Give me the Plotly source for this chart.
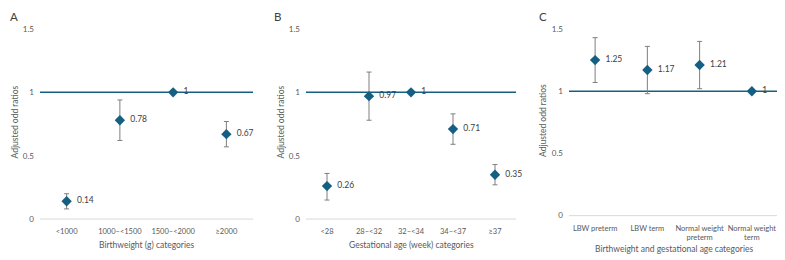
import plotly.graph_objects as go

# ---- data ----
cat_a = ["<1000", "1000–<1500", "1500–<2000", "≥2000"]
or_a = [0.14, 0.78, 1.00, 0.67]
lo_a = [0.08, 0.62, None, 0.57]
hi_a = [0.20, 0.94, None, 0.77]
lab_a = ["0.14", "0.78", "1", "0.67"]

cat_b = ["<28", "28–<32", "32–<34", "34–<37", "≥37"]
or_b = [0.26, 0.97, 1.00, 0.71, 0.35]
lo_b = [0.15, 0.78, None, 0.59, 0.27]
hi_b = [0.36, 1.16, None, 0.83, 0.43]
lab_b = ["0.26", "0.97", "1", "0.71", "0.35"]

cat_c = ["LBW preterm", "LBW term", "Normal weight<br>preterm", "Normal weight<br>term"]
or_c = [1.25, 1.17, 1.21, 1.00]
lo_c = [1.07, 0.98, 1.02, None]
hi_c = [1.43, 1.36, 1.40, None]
lab_c = ["1.25", "1.17", "1.21", "1"]

y_ticks = [0, 0.5, 1, 1.5]
y_ticktext = ["0", "0.5", "1", "1.5"]

OFF = 8  # page body margin
W, H = 785 - OFF, 260 - OFF
FONT = "Lato, Open Sans, sans-serif"
MARK = "#156082"
GRAY = "#595959"

panels = [
    dict(cats=cat_a, vals=or_a, lo=lo_a, hi=hi_a, labs=lab_a, letter="A",
         xtitle="Birthweight (g) categories", xd=(40, 253), yd=(225, 20), yr=(-0.047, 1.571),
         ytitle_x=14, letter_x=8, xtitle_y=245),
    dict(cats=cat_b, vals=or_b, lo=lo_b, hi=hi_b, labs=lab_b, letter="B",
         xtitle="Gestational age (week) categories", xd=(306, 516), yd=(225, 20), yr=(-0.047, 1.571),
         ytitle_x=280, letter_x=272, xtitle_y=245),
    dict(cats=cat_c, vals=or_c, lo=lo_c, hi=hi_c, labs=lab_c, letter="C",
         xtitle="Birthweight and gestational age categories", xd=(569, 778), yd=(222, 20), yr=(-0.051, 1.572),
         ytitle_x=543, letter_x=537, xtitle_y=249),
]

def px(x):
    return (x - OFF) / W

def py(y):
    return 1 - (y - OFF) / H

fig = go.Figure()
annotations = []
shapes = []
for i, p in enumerate(panels):
    n = i + 1
    xa = "x" if n == 1 else f"x{n}"
    ya = "y" if n == 1 else f"y{n}"
    plus = [(h - v) if h is not None else None for v, h in zip(p["vals"], p["hi"])]
    minus = [(v - l) if l is not None else None for v, l in zip(p["vals"], p["lo"])]
    fig.add_trace(go.Scatter(
        x=p["cats"], y=p["vals"], mode="markers+text",
        text=["  " + t for t in p["labs"]], textposition="middle right",
        textfont=dict(size=8.5, color="#404040", family=FONT),
        marker=dict(symbol="diamond", size=8, color=MARK),
        error_y=dict(type="data", symmetric=False, array=plus, arrayminus=minus,
                     color="#7f7f7f", thickness=1, width=2.5),
        xaxis=xa, yaxis=ya, showlegend=False, cliponaxis=False,
    ))
    xd = [px(p["xd"][0]), px(p["xd"][1])]
    yd = [py(p["yd"][0]), py(p["yd"][1])]
    fig.update_layout(**{
        ("xaxis" if n == 1 else f"xaxis{n}"): dict(
            domain=xd, anchor=ya, type="category", range=[-0.5, len(p["cats"]) - 0.5],
            showgrid=False, showline=False, zeroline=False, ticks="", tickangle=0,
            automargin=False, ticklabelstandoff=0,
            tickfont=dict(size=7.5, color=GRAY, family=FONT)),
        ("yaxis" if n == 1 else f"yaxis{n}"): dict(
            domain=yd, anchor=xa, range=list(p["yr"]), tickvals=y_ticks, ticktext=y_ticktext,
            showgrid=False, showline=False, zeroline=False, ticks="", automargin=False,
            tickfont=dict(size=8, color=GRAY, family=FONT), ticklabelstandoff=5),
    })
    shapes.append(dict(type="line", xref=f"{xa} domain", yref=ya, x0=0, x1=1, y0=0, y1=0,
                       line=dict(color="#d9d9d9", width=1), layer="below"))
    shapes.append(dict(type="line", xref=f"{xa} domain", yref=ya, x0=0, x1=1, y0=1, y1=1,
                       line=dict(color=MARK, width=1.5), layer="below"))
    annotations.append(dict(text=p["letter"], x=px(p["letter_x"]), y=1, xref="paper", yref="paper",
                            showarrow=False, xanchor="left", yanchor="top",
                            font=dict(size=11.5, color="#404040", family=FONT)))
    annotations.append(dict(text="Adjusted odd ratios", x=px(p["ytitle_x"]), y=(yd[0] + yd[1]) / 2,
                            xref="paper", yref="paper", showarrow=False, textangle=-90,
                            xanchor="center", yanchor="middle",
                            font=dict(size=8.5, color=GRAY, family=FONT)))
    annotations.append(dict(text=p["xtitle"], x=(xd[0] + xd[1]) / 2, y=py(p["xtitle_y"]),
                            xref="paper", yref="paper", showarrow=False,
                            xanchor="center", yanchor="middle",
                            font=dict(size=8.5, color=GRAY, family=FONT)))

fig.update_layout(width=W, height=H, margin=dict(l=0, r=0, t=0, b=0),
                  paper_bgcolor="white", plot_bgcolor="white",
                  annotations=annotations, shapes=shapes, font=dict(family=FONT))
fig.write_html("out.html")
